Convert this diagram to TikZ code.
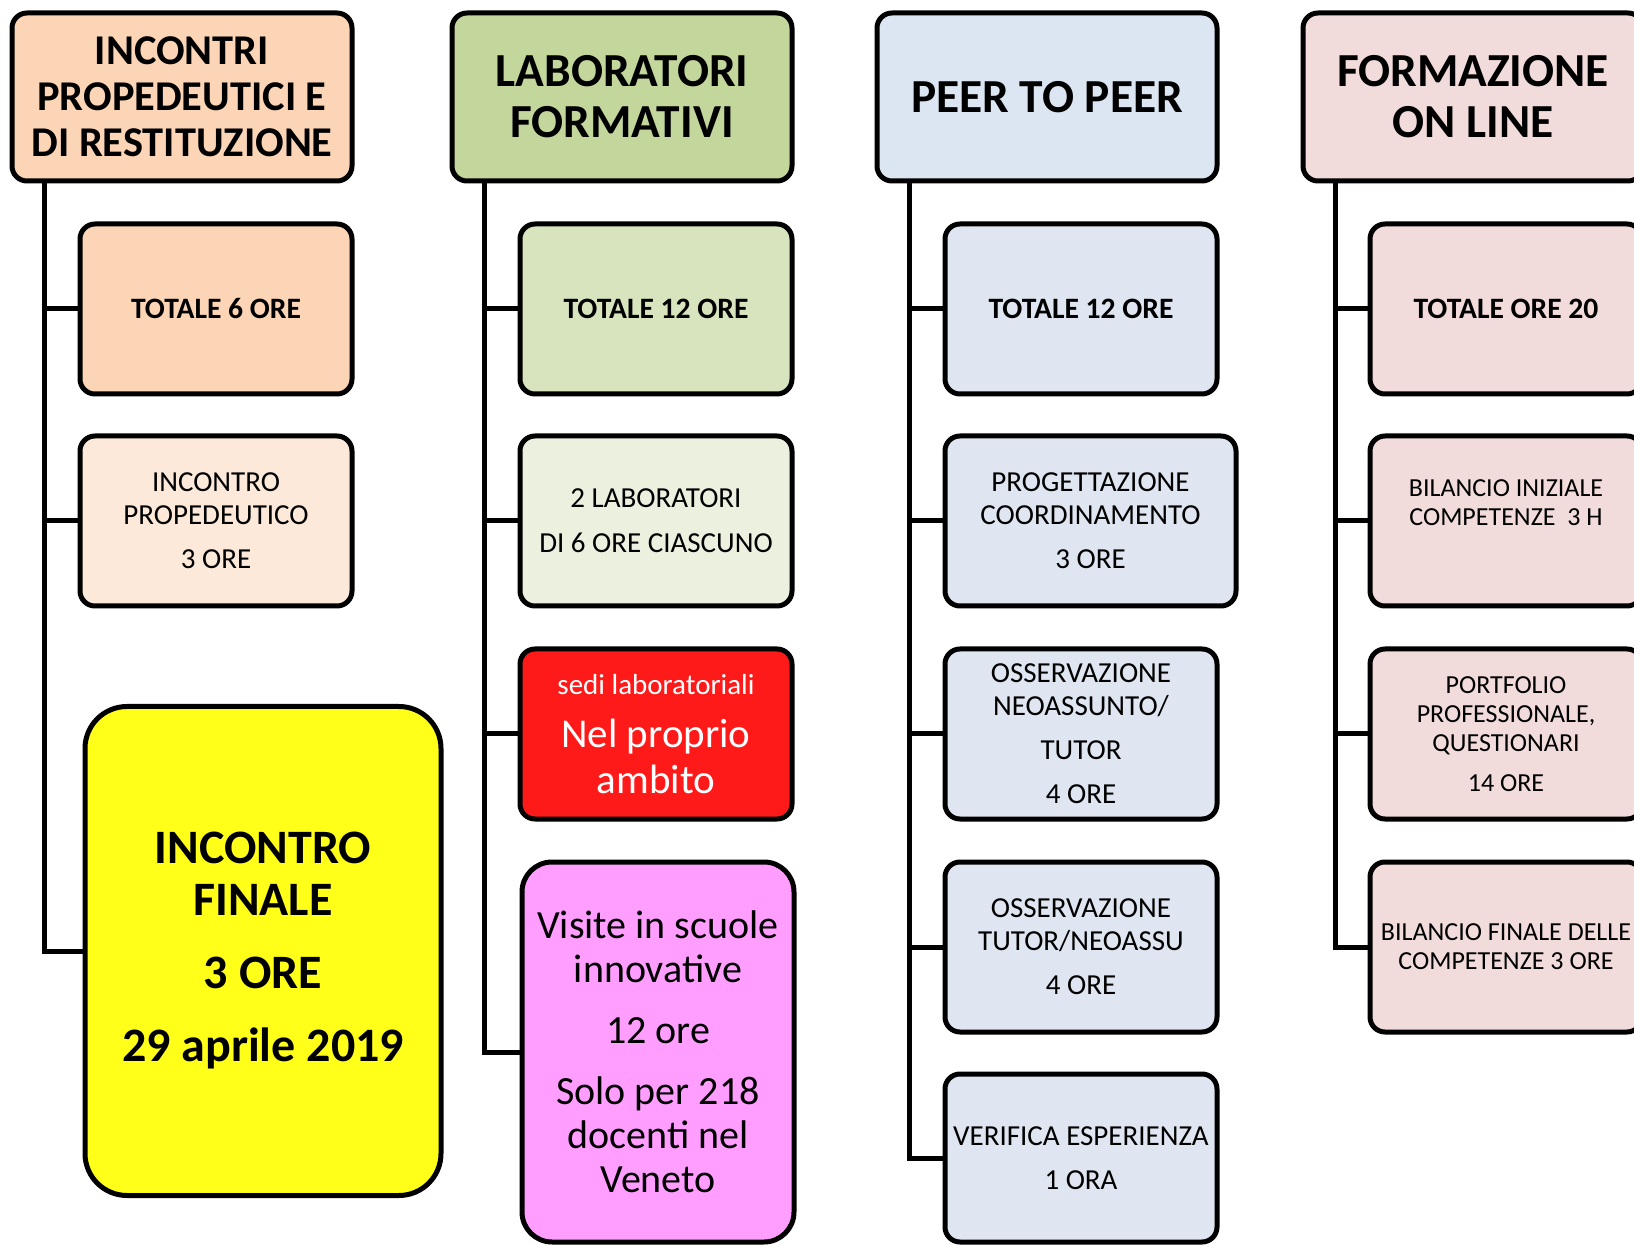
\documentclass[tikz,border=0pt]{standalone}
\usepackage{fontspec}
\setmainfont{Carlito}
\definecolor{peach}{HTML}{FBD5B5}
\definecolor{peachlight}{HTML}{FDE9D9}
\definecolor{olive}{HTML}{C3D69B}
\definecolor{olivemid}{HTML}{D7E4BD}
\definecolor{olivelight}{HTML}{EBF1DE}
\definecolor{skyhead}{HTML}{DCE6F2}
\definecolor{sky}{HTML}{DFE6F1}
\definecolor{rose}{HTML}{F2DCDB}
\definecolor{labred}{HTML}{FF1A1A}
\definecolor{visitpink}{HTML}{FF9EFF}
\definecolor{finalyellow}{HTML}{FFFF19}
\begin{document}
\begin{tikzpicture}[x=0.5pt, y=-0.5pt,
		box/.style={draw, line width=2.5pt, rounded corners=7.5pt, inner sep=0pt, align=center,
			minimum width=136pt, minimum height=85pt, font=\fontsize{14.5}{16.5}\selectfont},
		head/.style={box, minimum width=170pt, minimum height=84pt, font=\fontsize{23.7}{25.5}\selectfont\bfseries},
		total/.style={box, font=\fontsize{14.8}{17}\selectfont\bfseries},
		small/.style={box, font=\fontsize{13}{14.5}\selectfont},
		spine/.style={line width=2.5pt}]
			\useasboundingbox (0,0) rectangle (1634,1245);

			\node[head, fill=peach, font=\fontsize{21.2}{23}\selectfont\bfseries] (inc) at (182,97) {INCONTRI\\PROPEDEUTICI E\\DI RESTITUZIONE};
			\node[total, fill=peach] (inctot) at (216,309) {TOTALE 6 ORE};
			\node[box, fill=peachlight] (incprop) at (216,521) {INCONTRO\\PROPEDEUTICO\\[5.5pt]3 ORE};
			\node[box, fill=finalyellow, minimum width=178pt, minimum height=244.5pt, rounded corners=21pt,
				font=\fontsize{24}{26}\selectfont\bfseries] (incfin) at (263,951) {INCONTRO\\FINALE\\[10.5pt]3 ORE\\[10.5pt]29 aprile 2019};

			\node[head, fill=olive] (lab) at (622,97) {LABORATORI\\FORMATIVI};
			\node[total, fill=olivemid] (labtot) at (656,309) {TOTALE 12 ORE};
			\node[box, fill=olivelight] (labdue) at (656,521) {2 LABORATORI\\[6pt]DI 6 ORE CIASCUNO};
			\node[box, fill=labred, text=white, font=\fontsize{20.5}{23}\selectfont] (labsedi) at (656,734)
				{{\fontsize{14.5}{17}\selectfont sedi laboratoriali}\\[3.5pt]Nel proprio\\ambito};
			\node[box, fill=visitpink, minimum height=190pt, rounded corners=15pt, font=\fontsize{20}{22}\selectfont] (labvis) at (658,1052)
				{Visite in scuole\\innovative\\[8.5pt]12 ore\\[8.5pt]Solo per 218\\docenti nel\\Veneto};

			\node[head, fill=skyhead] (peer) at (1047,97) {PEER TO PEER};
			\node[total, fill=sky] (peertot) at (1081,309) {TOTALE 12 ORE};
			\node[box, fill=sky, minimum width=145.5pt] (peerprog) at (1090.5,521) {PROGETTAZIONE\\COORDINAMENTO\\[5.5pt]3 ORE};
			\node[box, fill=sky] (peeross) at (1081,734) {OSSERVAZIONE\\NEOASSUNTO/\\[5.5pt]TUTOR\\[5.5pt]4 ORE};
			\node[box, fill=sky] (peertut) at (1081,947) {OSSERVAZIONE\\TUTOR/NEOASSU\\[5.5pt]4 ORE};
			\node[box, fill=sky, minimum height=84pt] (peerver) at (1081,1158) {VERIFICA ESPERIENZA\\[5.5pt]1 ORA};

			\node[head, fill=rose] (fol) at (1473,97) {FORMAZIONE\\ON LINE};
			\node[total, fill=rose] (foltot) at (1506,309) {TOTALE ORE 20};
			\node[small, fill=rose] (folini) at (1506,521) {BILANCIO INIZIALE\\COMPETENZE\ \ 3 H\\\strut};
			\node[small, fill=rose] (folport) at (1506,734) {PORTFOLIO\\PROFESSIONALE,\\QUESTIONARI\\[5.5pt]14 ORE};
			\node[small, fill=rose] (folfin) at (1506,947) {BILANCIO FINALE DELLE\\COMPETENZE 3 ORE};

			\path (inc.south west) ++(35,0) coordinate (s1);
			\path (lab.south west) ++(35,0) coordinate (s2);
			\path (peer.south west) ++(35,0) coordinate (s3);
			\path (fol.south west) ++(35,0) coordinate (s4);

			\draw[spine] (s1) |- (inctot.west) (s1) |- (incprop.west) (s1) |- (incfin.west);
			\draw[spine] (s2) |- (labtot.west) (s2) |- (labdue.west) (s2) |- (labsedi.west) (s2) |- (labvis.west);
			\draw[spine] (s3) |- (peertot.west) (s3) |- (peerprog.west) (s3) |- (peeross.west) (s3) |- (peertut.west) (s3) |- (peerver.west);
			\draw[spine] (s4) |- (foltot.west) (s4) |- (folini.west) (s4) |- (folport.west) (s4) |- (folfin.west);
		\end{tikzpicture}
\end{document}
